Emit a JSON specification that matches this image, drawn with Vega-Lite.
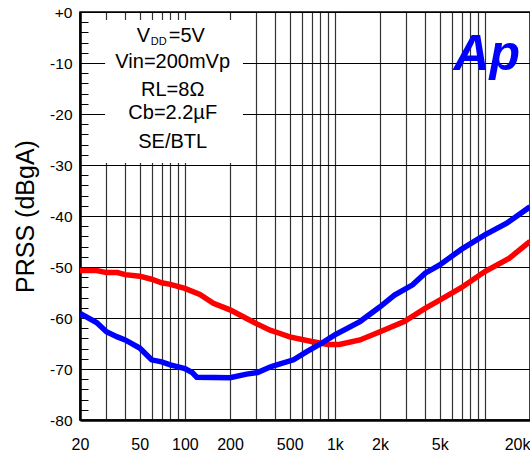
{
  "$schema": "https://vega.github.io/schema/vega-lite/v6.json",
  "width": 450,
  "height": 408,
  "autosize": {"type": "none"},
  "padding": {"left": 80, "top": 12, "right": 0, "bottom": 35},
  "background": "white",
  "config": {
    "font": "Liberation Sans",
    "view": {"stroke": "black", "strokeWidth": 1.5}
  },
  "resolve": {"axis": {"x": "independent", "y": "independent"}},
  "datasets": {
    "curves": [
      {"series": "SE", "freq": 20, "psrr": -50.7},
      {"series": "SE", "freq": 25.8, "psrr": -50.7},
      {"series": "SE", "freq": 30, "psrr": -51.1},
      {"series": "SE", "freq": 35.5, "psrr": -51.1},
      {"series": "SE", "freq": 40, "psrr": -51.5},
      {"series": "SE", "freq": 50, "psrr": -51.8},
      {"series": "SE", "freq": 60, "psrr": -52.4},
      {"series": "SE", "freq": 70, "psrr": -53.1},
      {"series": "SE", "freq": 80, "psrr": -53.4},
      {"series": "SE", "freq": 100, "psrr": -54.2},
      {"series": "SE", "freq": 126, "psrr": -55.4},
      {"series": "SE", "freq": 155, "psrr": -57.1},
      {"series": "SE", "freq": 200, "psrr": -58.4},
      {"series": "SE", "freq": 258, "psrr": -60.1},
      {"series": "SE", "freq": 305, "psrr": -61.2},
      {"series": "SE", "freq": 370, "psrr": -62.4},
      {"series": "SE", "freq": 400, "psrr": -62.7},
      {"series": "SE", "freq": 500, "psrr": -63.7},
      {"series": "SE", "freq": 700, "psrr": -64.6},
      {"series": "SE", "freq": 900, "psrr": -65.2},
      {"series": "SE", "freq": 1070, "psrr": -65.2},
      {"series": "SE", "freq": 1470, "psrr": -64.3},
      {"series": "SE", "freq": 2000, "psrr": -62.7},
      {"series": "SE", "freq": 2900, "psrr": -60.7},
      {"series": "SE", "freq": 4000, "psrr": -58.1},
      {"series": "SE", "freq": 5000, "psrr": -56.5},
      {"series": "SE", "freq": 7000, "psrr": -54.0},
      {"series": "SE", "freq": 10000, "psrr": -50.9},
      {"series": "SE", "freq": 14500, "psrr": -48.3},
      {"series": "SE", "freq": 20000, "psrr": -45.0},
      {"series": "BTL", "freq": 20, "psrr": -59.1},
      {"series": "BTL", "freq": 25.8, "psrr": -60.9},
      {"series": "BTL", "freq": 30, "psrr": -62.7},
      {"series": "BTL", "freq": 35.5, "psrr": -63.7},
      {"series": "BTL", "freq": 40, "psrr": -64.3},
      {"series": "BTL", "freq": 50, "psrr": -65.9},
      {"series": "BTL", "freq": 60, "psrr": -68.2},
      {"series": "BTL", "freq": 70, "psrr": -68.6},
      {"series": "BTL", "freq": 80, "psrr": -69.2},
      {"series": "BTL", "freq": 100, "psrr": -69.9},
      {"series": "BTL", "freq": 112, "psrr": -70.7},
      {"series": "BTL", "freq": 120, "psrr": -71.6},
      {"series": "BTL", "freq": 200, "psrr": -71.7},
      {"series": "BTL", "freq": 258, "psrr": -71.0},
      {"series": "BTL", "freq": 305, "psrr": -70.7},
      {"series": "BTL", "freq": 370, "psrr": -69.6},
      {"series": "BTL", "freq": 400, "psrr": -69.3},
      {"series": "BTL", "freq": 530, "psrr": -68.2},
      {"series": "BTL", "freq": 650, "psrr": -66.6},
      {"series": "BTL", "freq": 800, "psrr": -65.1},
      {"series": "BTL", "freq": 1000, "psrr": -63.3},
      {"series": "BTL", "freq": 1470, "psrr": -60.7},
      {"series": "BTL", "freq": 2000, "psrr": -57.8},
      {"series": "BTL", "freq": 2500, "psrr": -55.5},
      {"series": "BTL", "freq": 3300, "psrr": -53.5},
      {"series": "BTL", "freq": 4000, "psrr": -51.2},
      {"series": "BTL", "freq": 5000, "psrr": -49.6},
      {"series": "BTL", "freq": 7000, "psrr": -46.5},
      {"series": "BTL", "freq": 10000, "psrr": -43.7},
      {"series": "BTL", "freq": 14000, "psrr": -41.4},
      {"series": "BTL", "freq": 20000, "psrr": -38.2}
    ],
    "one": [{}]
  },
  "layer": [
    {
      "data": {"name": "curves"},
      "mark": {"type": "line", "strokeWidth": 5.5, "clip": true},
      "encoding": {
        "x": {
          "field": "freq",
          "type": "quantitative",
          "scale": {"type": "log", "domain": [20, 20000], "nice": false},
          "axis": {
            "title": null,
            "values": [20, 30, 40, 50, 60, 70, 80, 90, 100, 200, 300, 400, 500, 600, 700, 800, 900, 1000, 2000, 3000, 4000, 5000, 6000, 7000, 8000, 9000, 10000, 20000],
            "labelExpr": "indexof([20,50,100,200,500], datum.value) >= 0 ? '' + datum.value : (indexof([1000,2000,5000,20000], datum.value) >= 0 ? (datum.value/1000) + 'k' : '')",
            "labelAlign": {"condition": {"test": "datum.value >= 20000", "value": "right"}, "value": "center"},
            "labelFontSize": 16,
            "labelColor": "black",
            "labelPadding": 16,
            "labelFlush": false,
            "labelOverlap": false,
            "ticks": false,
            "grid": true,
            "gridColor": "#333333",
            "gridWidth": 1.2,
            "gridOpacity": 1,
            "domainColor": "black",
            "domainWidth": 2.5
          }
        },
        "y": {
          "field": "psrr",
          "type": "quantitative",
          "scale": {"domain": [-80, 0], "nice": false, "zero": false},
          "axis": {
            "title": "PRSS (dBgA)",
            "titleFontSize": 25,
            "titleFontWeight": "normal",
            "titleColor": "black",
            "titlePadding": 11,
            "values": [-80, -78, -76, -74, -72, -70, -68, -66, -64, -62, -60, -58, -56, -54, -52, -50, -48, -46, -44, -42, -40, -38, -36, -34, -32, -30, -28, -26, -24, -22, -20, -18, -16, -14, -12, -10, -8, -6, -4, -2, 0],
            "labelExpr": "datum.value % 10 == 0 ? (datum.value == 0 ? '+0' : '' + datum.value) : ''",
            "labelFontSize": 15.5,
            "labelColor": "black",
            "labelPadding": 8,
            "labelOverlap": false,
            "labelFlush": false,
            "grid": true,
            "gridColor": "black",
            "gridWidth": 1,
            "gridOpacity": {"condition": {"test": "datum.value % 10 == 0", "value": 1}, "value": 0},
            "ticks": true,
            "tickColor": "black",
            "tickWidth": 1,
            "tickSize": {"condition": {"test": "datum.value % 10 == 0", "value": 0}, "value": -8},
            "domainColor": "black",
            "domainWidth": 2.5
          }
        },
        "color": {
          "field": "series",
          "type": "nominal",
          "scale": {"domain": ["SE", "BTL"], "range": ["#ff0000", "#0000ff"]},
          "legend": null
        },
        "order": {"field": "freq", "type": "quantitative"}
      }
    },
    {
      "data": {"name": "one"},
      "mark": {"type": "rect", "color": "white"},
      "encoding": {
        "x": {"datum": 29.4, "type": "quantitative", "axis": null},
        "x2": {"datum": 244},
        "y": {"datum": -1.57, "type": "quantitative", "axis": null},
        "y2": {"datum": -29.6}
      }
    },
    {
      "data": {"name": "one"},
      "mark": {"type": "text", "fontSize": 20, "align": "center", "baseline": "middle", "color": "black"},
      "encoding": {
        "x": {"datum": 83, "type": "quantitative", "axis": null},
        "y": {"datum": -9.9, "type": "quantitative", "axis": null},
        "text": {"value": "Vin=200mVp"}
      }
    },
    {
      "data": {"name": "one"},
      "mark": {"type": "text", "fontSize": 20, "align": "center", "baseline": "middle", "color": "black"},
      "encoding": {
        "x": {"datum": 83, "type": "quantitative", "axis": null},
        "y": {"datum": -15.3, "type": "quantitative", "axis": null},
        "text": {"value": "RL=8Ω"}
      }
    },
    {
      "data": {"name": "one"},
      "mark": {"type": "text", "fontSize": 20, "align": "center", "baseline": "middle", "color": "black"},
      "encoding": {
        "x": {"datum": 83, "type": "quantitative", "axis": null},
        "y": {"datum": -19.9, "type": "quantitative", "axis": null},
        "text": {"value": "Cb=2.2µF"}
      }
    },
    {
      "data": {"name": "one"},
      "mark": {"type": "text", "fontSize": 20, "align": "center", "baseline": "middle", "color": "black"},
      "encoding": {
        "x": {"datum": 83, "type": "quantitative", "axis": null},
        "y": {"datum": -25.4, "type": "quantitative", "axis": null},
        "text": {"value": "SE/BTL"}
      }
    },
    {
      "data": {"name": "one"},
      "mark": {"type": "text", "fontSize": 20, "align": "left", "baseline": "middle", "dx": -36, "color": "black"},
      "encoding": {
        "x": {"datum": 83, "type": "quantitative", "axis": null},
        "y": {"datum": -4.7, "type": "quantitative", "axis": null},
        "text": {"value": "V"}
      }
    },
    {
      "data": {"name": "one"},
      "mark": {"type": "text", "fontSize": 11, "align": "left", "baseline": "middle", "dx": -22, "dy": 6, "color": "black"},
      "encoding": {
        "x": {"datum": 83, "type": "quantitative", "axis": null},
        "y": {"datum": -4.7, "type": "quantitative", "axis": null},
        "text": {"value": "DD"}
      }
    },
    {
      "data": {"name": "one"},
      "mark": {"type": "text", "fontSize": 20, "align": "left", "baseline": "middle", "dx": -4, "color": "black"},
      "encoding": {
        "x": {"datum": 83, "type": "quantitative", "axis": null},
        "y": {"datum": -4.7, "type": "quantitative", "axis": null},
        "text": {"value": "=5V"}
      }
    },
    {
      "data": {"name": "one"},
      "mark": {"type": "text", "font": "Liberation Sans", "fontSize": 50, "fontWeight": "bold", "fontStyle": "italic", "align": "center", "baseline": "alphabetic", "color": "#0000ff"},
      "encoding": {
        "x": {"datum": 10300, "type": "quantitative", "axis": null},
        "y": {"datum": -11.4, "type": "quantitative", "axis": null},
        "text": {"value": "Ap"}
      }
    }
  ]
}
